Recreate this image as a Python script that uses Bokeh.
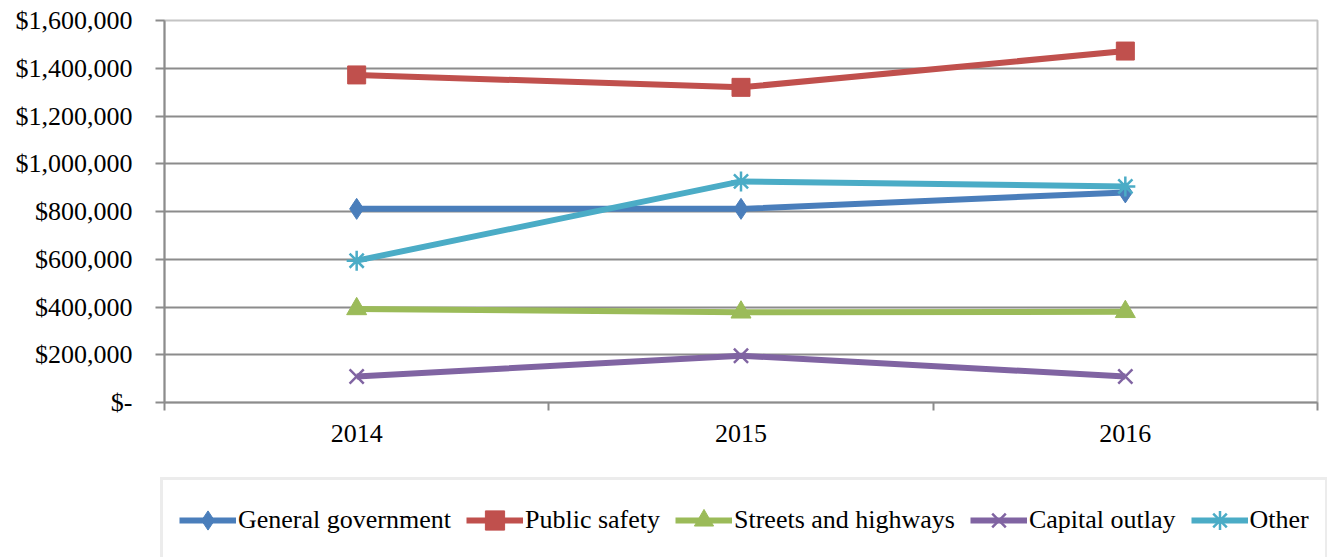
from bokeh.plotting import figure
from bokeh.models import (Range1d, FixedTicker, NumeralTickFormatter, Legend, LegendItem)
from bokeh.embed import file_html
from bokeh.resources import INLINE

# Expenditures by function, 2014-2016
years = ["2014", "2015", "2016"]
general_government = [811000, 811000, 880000]
public_safety = [1372000, 1320000, 1472000]
streets_and_highways = [392000, 378000, 380000]
capital_outlay = [109000, 196000, 109000]
other = [594000, 926000, 905000]

series = [
    ("General government", general_government, "#4A7EBB", "diamond", 21),
    ("Public safety", public_safety, "#C0504D", "square", 18),
    ("Streets and highways", streets_and_highways, "#9BBB59", "triangle", 20),
    ("Capital outlay", capital_outlay, "#8064A2", "x", 20),
    ("Other", other, "#4BACC6", "asterisk", 20),
]

y_ticks = list(range(0, 1600001, 200000))

FONT = "Liberation Serif"
GRID = "#8C8C8C"
W = 1327
CHART_H = 470
LEGEND_H = 87

# each year sits in the middle of its own category band
xs = [i + 0.5 for i in range(len(years))]
bounds = list(range(len(years) + 1))

p = figure(width=W, height=CHART_H, output_backend="svg", toolbar_location=None,
           x_range=Range1d(0, len(years)), y_range=Range1d(0, 1600000),
           min_border_left=164, min_border_right=10, min_border_top=20,
           min_border_bottom=CHART_H - 402)
p.background_fill_color = "white"
p.border_fill_color = "white"
p.outline_line_color = "#C4C4C4"
p.outline_line_width = 2

# x axis: labels centred in bands, tick marks at band edges
p.xaxis.ticker = FixedTicker(ticks=xs, minor_ticks=bounds)
p.xaxis.major_label_overrides = {x: y for x, y in zip(xs, years)}
p.xaxis.major_tick_out = 0
p.xaxis.major_tick_in = 0
p.xaxis.minor_tick_out = 8
p.xaxis.minor_tick_in = 0
p.xaxis.minor_tick_line_color = GRID
p.xaxis.minor_tick_line_width = 2
p.xaxis.axis_line_color = GRID
p.xaxis.axis_line_width = 2
p.xaxis.major_label_standoff = 14
p.xaxis.major_label_text_font = FONT
p.xaxis.major_label_text_font_size = "26px"
p.xaxis.major_label_text_color = "black"

# y axis: accounting-style currency labels
p.yaxis.ticker = FixedTicker(ticks=y_ticks)
p.yaxis.formatter = NumeralTickFormatter(format="$0,0")
p.yaxis.major_label_overrides = {0: "$-"}
p.yaxis.major_tick_out = 9
p.yaxis.major_tick_in = 0
p.yaxis.minor_tick_out = 0
p.yaxis.minor_tick_in = 0
p.yaxis.major_tick_line_color = GRID
p.yaxis.major_tick_line_width = 2
p.yaxis.axis_line_color = GRID
p.yaxis.axis_line_width = 2
p.yaxis.major_label_standoff = 23
p.yaxis.major_label_text_font = FONT
p.yaxis.major_label_text_font_size = "26px"
p.yaxis.major_label_text_color = "black"

p.xgrid.visible = False
p.ygrid.ticker = FixedTicker(ticks=y_ticks[1:-1])
p.ygrid.grid_line_color = GRID
p.ygrid.grid_line_width = 2


def draw_series(fig, x, y, color, marker, size):
    ln = fig.line(x, y, line_color=color, line_width=6)
    if marker in ("x", "asterisk"):
        mk = fig.scatter(x, y, marker=marker, size=size, line_color=color,
                         line_width=2.5, fill_color=None)
    else:
        mk = fig.scatter(x, y, marker=marker, size=size, line_color=color,
                         line_width=1, fill_color=color)
    return ln, mk


for name, vals, color, marker, size in series:
    draw_series(p, xs, vals, color, marker, size)

# legend strip underneath the chart; its keys come from copies of the
# series that fall outside this strip's (empty) value range
leg = figure(width=W, height=LEGEND_H, output_backend="svg", toolbar_location=None,
             x_range=Range1d(0, len(years)), y_range=Range1d(-2, -1),
             x_axis_type=None, y_axis_type=None,
             min_border_left=0, min_border_right=0, min_border_top=0,
             min_border_bottom=0)
leg.outline_line_color = None
leg.grid.visible = False
leg.background_fill_color = "white"
leg.border_fill_color = "white"

items = []
for name, vals, color, marker, size in series:
    ln, mk = draw_series(leg, xs, vals, color, marker, size)
    items.append(LegendItem(label=name, renderers=[ln, mk]))

legend = Legend(items=items, orientation="horizontal", location=(160, -6))
legend.border_line_color = "#D9D9D9"
legend.border_line_width = 3
legend.background_fill_color = "white"
legend.background_fill_alpha = 1
legend.padding = 16
legend.spacing = 15
legend.margin = 0
legend.glyph_width = 57
legend.glyph_height = 48
legend.label_standoff = 2
legend.label_text_font = FONT
legend.label_text_font_size = "26px"
legend.label_text_color = "black"
leg.add_layout(legend, "center")

open("out.html", "w").write(file_html([p, leg], INLINE))
